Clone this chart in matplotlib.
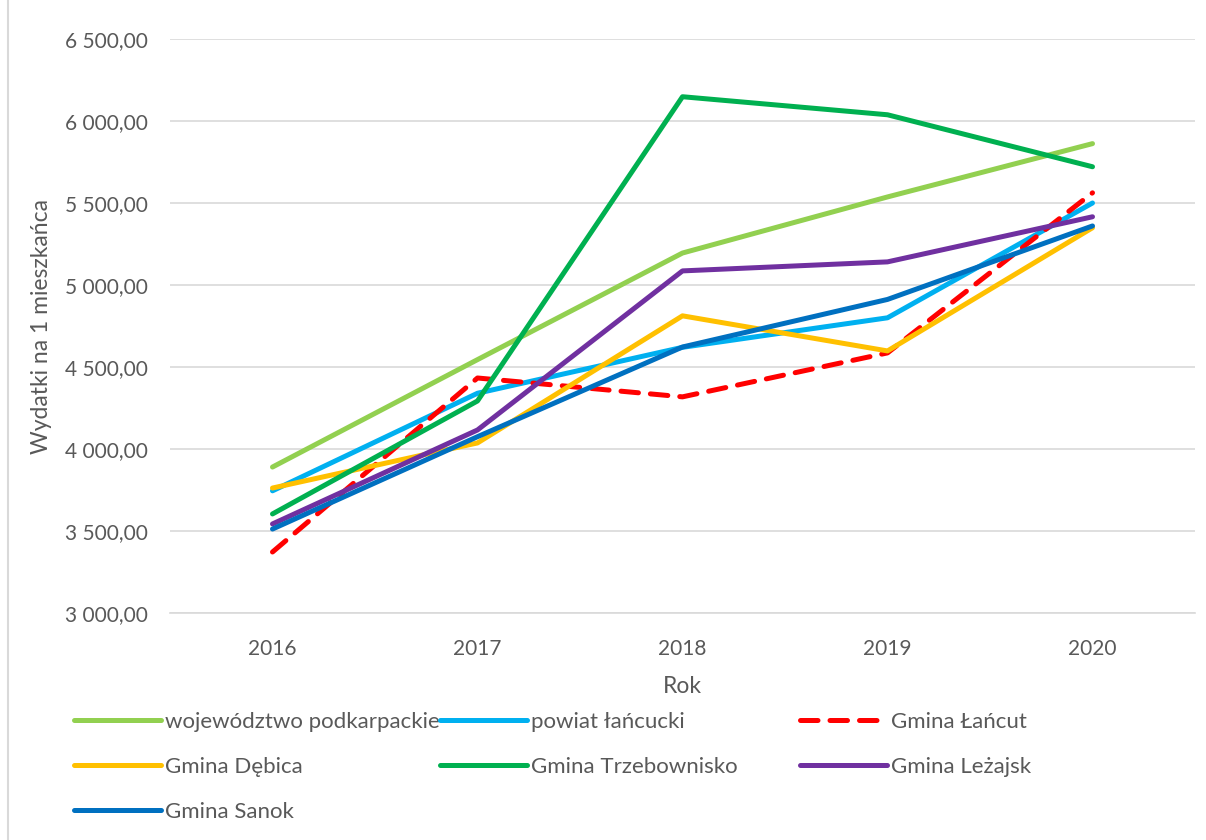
import matplotlib.pyplot as plt
from matplotlib.lines import Line2D
from matplotlib.ticker import FuncFormatter

plt.rcParams["font.family"] = ["Lato", "DejaVu Sans"]

# Dane
lata = [2016, 2017, 2018, 2019, 2020]
wojewodztwo = [3890, 4545, 5195, 5537, 5862]
powiat = [3745, 4340, 4620, 4800, 5500]
lancut = [3372, 4433, 4318, 4586, 5562]
debica = [3762, 4037, 4812, 4598, 5349]
trzebownisko = [3604, 4293, 6148, 6038, 5721]
lezajsk = [3543, 4116, 5086, 5141, 5416]
sanok = [3512, 4075, 4622, 4912, 5360]

serie = [
    ("województwo podkarpackie", wojewodztwo, "#92D050", "-"),
    ("powiat łańcucki", powiat, "#00B0F0", "-"),
    ("Gmina Łańcut", lancut, "#FF0000", (0, (3.5, 2.4))),
    ("Gmina Dębica", debica, "#FFC000", "-"),
    ("Gmina Trzebownisko", trzebownisko, "#00B050", "-"),
    ("Gmina Leżajsk", lezajsk, "#7030A0", "-"),
    ("Gmina Sanok", sanok, "#0070C0", "-"),
]

szary = "#595959"

fig = plt.figure(figsize=(12.06, 8.4), dpi=100)
ax = fig.add_axes([170 / 1206, 1 - 613 / 840, 1025 / 1206, 574 / 840])

linie = {}
for nazwa, wartosci, kolor, styl in serie:
    (l,) = ax.plot(
        lata, wartosci, color=kolor, linestyle=styl, linewidth=3.6,
        solid_capstyle="round", dash_capstyle="round", label=nazwa,
    )
    linie[nazwa] = l

ax.set_xlim(2015.5, 2020.5)
ax.set_ylim(3000, 6500)
ax.set_xticks(lata)
ax.set_yticks(range(3000, 6501, 500))
ax.yaxis.set_major_formatter(
    FuncFormatter(lambda v, p: "{:,.2f}".format(v).replace(",", " ").replace(".", ","))
)
ax.grid(axis="y", color="#D9D9D9", linewidth=1.2)
ax.set_axisbelow(True)
for s in ["top", "right", "left"]:
    ax.spines[s].set_visible(False)
ax.spines["bottom"].set_color("#D9D9D9")
ax.spines["bottom"].set_linewidth(1.2)
ax.tick_params(axis="both", length=0, labelsize=15, colors=szary)
ax.tick_params(axis="y", pad=16)
ax.tick_params(axis="x", pad=19)

ax.set_ylabel("Wydatki na 1 mieszkańca", fontsize=16.5, color=szary, labelpad=9)
ax.set_xlabel("Rok", fontsize=16.5, color=szary, labelpad=12)

# Legenda: trzy kolumny o stałej szerokości, jak w Excelu
kolumny = [
    (74, ["województwo podkarpackie", "Gmina Dębica", "Gmina Sanok"]),
    (440, ["powiat łańcucki", "Gmina Trzebownisko"]),
    (800, ["Gmina Łańcut", "Gmina Leżajsk"]),
]
for x0, nazwy in kolumny:
    leg = fig.legend(
        [linie[n] for n in nazwy], nazwy,
        loc="upper left", bbox_to_anchor=(x0 / 1206, 1 - 712 / 840),
        frameon=False, fontsize=16, handlelength=3.9, handletextpad=0.2,
        labelspacing=1.12, borderaxespad=0, borderpad=0,
    )
    for t in leg.get_texts():
        t.set_color(szary)

fig.add_artist(Line2D([8 / 1206, 8 / 1206], [0, 1], color="#D9D9D9", linewidth=1.5))

fig.savefig("out.png", dpi=100)
